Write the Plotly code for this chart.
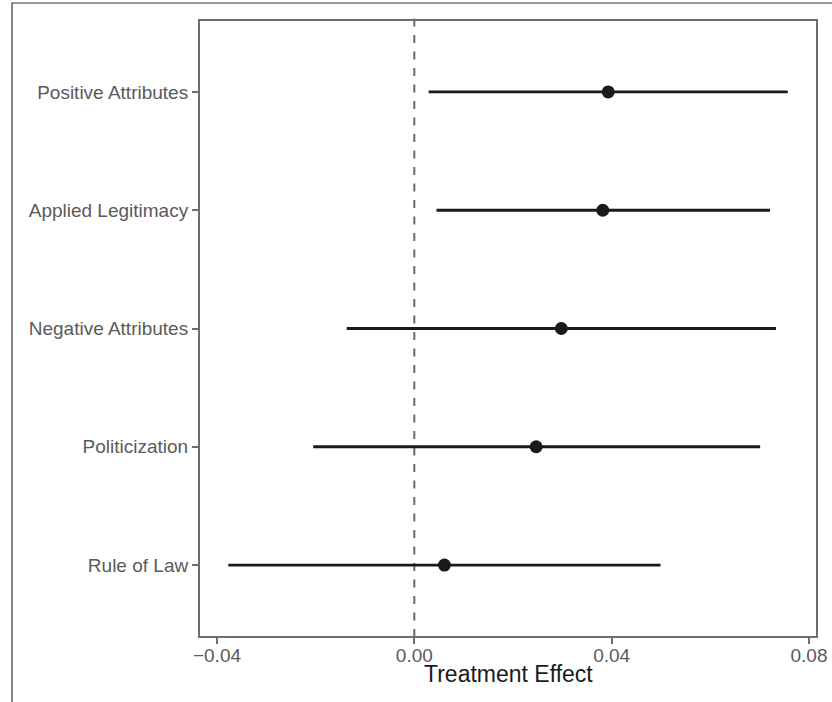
import plotly.graph_objects as go

categories = ["Rule of Law", "Politicization", "Negative Attributes", "Applied Legitimacy", "Positive Attributes"]
estimates = [0.0061, 0.0247, 0.0298, 0.0382, 0.0393]
ci_low = [-0.0377, -0.0205, -0.0137, 0.0045, 0.0029]
ci_high = [0.0499, 0.0701, 0.0733, 0.0721, 0.0757]
x_ticks = [-0.04, 0.0, 0.04, 0.08]
x_ticklabels = ["\u22120.04", "0.00", "0.04", "0.08"]
x_title = "Treatment Effect"

err_plus = [h - e for h, e in zip(ci_high, estimates)]
err_minus = [e - l for e, l in zip(estimates, ci_low)]

fig = go.Figure()
fig.add_trace(go.Scatter(
    x=estimates, y=categories, mode="markers",
    marker=dict(size=13, color="#1a1a1a"),
    error_x=dict(type="data", symmetric=False, array=err_plus, arrayminus=err_minus,
                 color="#1a1a1a", thickness=2.8, width=0),
    showlegend=False, hoverinfo="skip",
))

frame = "#6e6e6e"
fig.update_layout(
    width=832, height=702,
    margin=dict(l=200, r=16, t=21, b=66, autoexpand=False),
    paper_bgcolor="white", plot_bgcolor="white",
    font=dict(family="Liberation Sans, Arial, sans-serif"),
    xaxis=dict(
        range=[-0.04344, 0.08142], tickvals=x_ticks, ticktext=x_ticklabels,
        showgrid=False, zeroline=False, showline=True, mirror=True, automargin=False,
        linecolor=frame, linewidth=2, ticks="outside", ticklen=6, tickwidth=2,
        tickcolor=frame, tickfont=dict(size=19, color="#5a5a5a"),
        ticklabeloverflow="allow", ticklabelstandoff=-5,
    ),
    yaxis=dict(
        type="category", categoryorder="array", categoryarray=categories,
        range=[-0.6, 4.6], automargin=False,
        showgrid=False, zeroline=False, showline=True, mirror=True,
        linecolor=frame, linewidth=2, ticks="outside", ticklen=6, tickwidth=2,
        tickcolor=frame, tickfont=dict(size=19, color="#5a5a5a"),
    ),
    annotations=[
        dict(text=x_title, xref="paper", yref="paper", x=0.5, y=-0.062,
             xanchor="center", yanchor="middle", showarrow=False,
             font=dict(size=23, color="#1a1a1a")),
    ],
    shapes=[
        dict(type="line", xref="x", yref="paper", x0=0, x1=0, y0=1.0040, y1=0,
             line=dict(color="#6a6a6a", width=2, dash="8px,8.5px"), layer="below"),
        dict(type="rect", xref="paper", yref="paper", x0=-0.3052, x1=2, y0=-1, y1=1.0293,
             line=dict(color="#333333", width=1.2), layer="above"),
    ],
)

fig.write_html(
    "out.html",
    config={"displayModeBar": False, "staticPlot": True},
    post_script="document.body.style.margin='0';document.body.style.overflow='hidden';",
)
